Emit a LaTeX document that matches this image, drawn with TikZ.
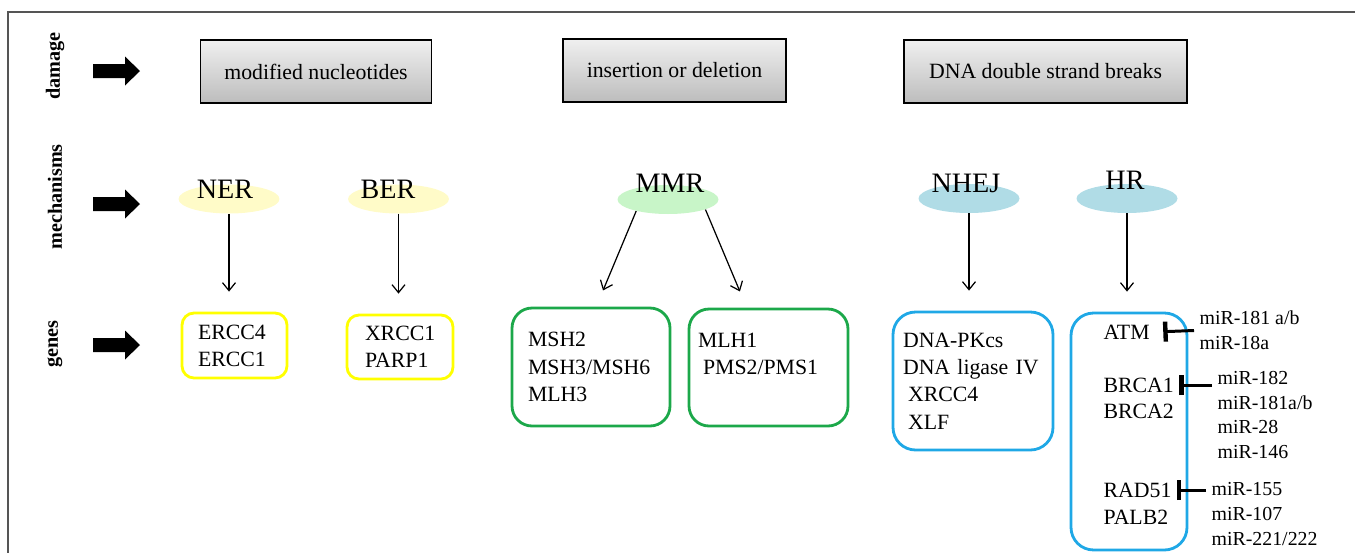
\documentclass[tikz,border=0pt]{standalone}
\usepackage{fontspec}
\setmainfont{Liberation Serif}
\usetikzlibrary{arrows.meta}
\usetikzlibrary{shapes.geometric}
\usetikzlibrary{positioning}

\definecolor{nerfill}{HTML}{FFFBC8}
\definecolor{mmrfill}{HTML}{C8F5C8}
\definecolor{dsbfill}{HTML}{B0DCE6}
\definecolor{yelline}{HTML}{FFFF00}
\definecolor{grnline}{HTML}{1CA84A}
\definecolor{bluline}{HTML}{1FA8E6}
\definecolor{framegray}{HTML}{555555}

\tikzset{
    rowlbl/.style={rotate=90, font=\fontsize{11.5}{14}\selectfont\bfseries},
    blkarrow/.pic={\fill (-25,-7) -- (7,-7) -- (7,-14.5) -- (22,0) -- (7,14.5) -- (7,7) -- (-25,7) -- cycle;},
    damagebox/.style={draw=black, line width=0.9pt, top color=black!6, bottom color=black!26, minimum height=1.25cm, font=\fontsize{12.4}{15}\selectfont},
    mech/.style={ellipse, inner sep=0pt, minimum width=2.02cm, minimum height=0.58cm},
    mechlbl/.style={anchor=base, inner sep=0pt, font=\fontsize{16}{19}\selectfont},
    genebox/.style={align=left, inner xsep=0pt, line width=1.6pt, font=\fontsize{12.4}{15.5}\selectfont},
    ybox/.style={genebox, draw=yelline, rounded corners=0.24cm},
    gbox/.style={genebox, draw=grnline, rounded corners=0.4cm},
    bbox/.style={genebox, draw=bluline, rounded corners=0.45cm},
    genetxt/.style={anchor=west, inner xsep=3pt, inner ysep=0pt, font=\fontsize{12.4}{15}\selectfont},
    mirtxt/.style={align=left, anchor=west, inner xsep=3pt, inner ysep=0pt, font=\fontsize{11.3}{14.2}\selectfont},
    mecharrow/.style={-{Straight Barb[length=1.6mm,width=2.6mm]}, line width=0.7pt, shorten >=0.4cm},
    inhib/.style={-{Bar[width=0.4cm, line width=2.5pt]}, line width=1.7pt}
}

\begin{document}
\begin{tikzpicture}[x=0.02cm, y=-0.02cm]
        \useasboundingbox (0,0) rectangle (1355,552);
        \clip (0,0) rectangle (1355,552);
        \draw[framegray, line width=0.8pt] (8,12) rectangle (1400,600);

        % Rows
        \node[rowlbl] (lblD) at (55,66) {damage};
        \node[rowlbl] (lblM) at (55,197) {mechanisms};
        \node[rowlbl] (lblG) at (55,344) {genes};
        \foreach \y in {71,204,345} \pic at (118,\y) {blkarrow};

        % Damage
        \node[damagebox, minimum width=4.62cm] (modnuc) at (316,71.5) {modified nucleotides};
        \node[damagebox, minimum width=4.46cm] (indel) at (674.5,70.5) {insertion or deletion};
        \node[damagebox, minimum width=5.66cm] (dsb) at (1045.5,71.5) {DNA double strand breaks};

        % Mechanisms
        \node[mech, fill=nerfill] (NER) at (229,199) {};
        \node[mech, fill=nerfill] (BER) at (398.5,199) {};
        \node[mech, fill=mmrfill] (MMR) at (668,199.5) {};
        \node[mech, fill=dsbfill] (NHEJ) at (969,198.5) {};
        \node[mech, fill=dsbfill] (HR) at (1127,198.5) {};
        \node[mechlbl] (NERlbl) at (225,198) {NER};
        \node[mechlbl] (BERlbl) at (388,198) {BER};
        \node[mechlbl] (MMRlbl) at (670,192) {MMR};
        \node[mechlbl] (NHEJlbl) at (966,192) {NHEJ};
        \node[mechlbl] (HRlbl) at (1125,189) {HR};

        % Genes
        \node[ybox, text width=1.46cm, minimum width=2.1cm, minimum height=1.3cm] (ercc) at (234.5,345.5) {ERCC4\\ERCC1};
        \node[ybox, text width=1.4cm, minimum width=2.12cm, minimum height=1.28cm] (xrcc) at (400,347) {XRCC1\\PARP1};
        \node[gbox, text width=2.52cm, minimum width=3.16cm, minimum height=2.36cm] (msh) at (591,367) {MSH2\\MSH3/MSH6\\MLH3};
        \node[gbox, text width=2.82cm, minimum width=3.18cm, minimum height=2.34cm] (mlh) at (768.5,367.5) {MLH1\\\hspace{0.1cm}PMS2/PMS1\\\mbox{}};
        \node[bbox, text width=2.8cm, minimum width=3.2cm, minimum height=2.76cm] (nhejg) at (973,381) {DNA-PKcs\\DNA ligase IV\\\hspace{0.1cm}XRCC4\\\hspace{0.1cm}XLF};
        \node[bbox, minimum width=2.32cm, minimum height=4.74cm] (hrg) at (1129,431.5) {};

        \node[genetxt] (ATM) at (1098,332) {ATM};
        \node[genetxt] (BRCA1) at (1098,385) {BRCA1};
        \node[genetxt] (BRCA2) at (1098,411) {BRCA2};
        \node[genetxt] (RAD51) at (1098,490) {RAD51};
        \node[genetxt] (PALB2) at (1098,517) {PALB2};

        \node[mirtxt] (mirATM) at (1194,330.5) {miR-181 a/b\\miR-18a};
        \node[mirtxt] (mirBRCA) at (1212,415) {miR-182\\miR-181a/b\\miR-28\\miR-146};
        \node[mirtxt] (mirRAD) at (1206,514) {miR-155\\miR-107\\miR-221/222};

        % Arrows
        \draw[mecharrow] (NER.south) -- (NER.south |- ercc.north);
        \draw[mecharrow] (BER.south) -- (BER.south |- xrcc.north);
        \draw[mecharrow, shorten >=0.35cm] (MMR.200) -- (msh.85);
        \draw[mecharrow, shorten >=0.35cm] (MMR.-15) -- (mlh.110);
        \draw[mecharrow] (NHEJ.south) -- (NHEJ.south |- nhejg.north);
        \draw[mecharrow] (HR.south) -- (HR.south |- hrg.north);

        \draw[inhib, shorten >=0.16cm] (mirATM.west) -- (ATM.east);
        \draw[inhib] (mirBRCA.west |- BRCA1.east) -- (BRCA1.east);
        \draw[inhib] (mirRAD.west |- RAD51.east) -- (RAD51.east);
\end{tikzpicture}
\end{document}
